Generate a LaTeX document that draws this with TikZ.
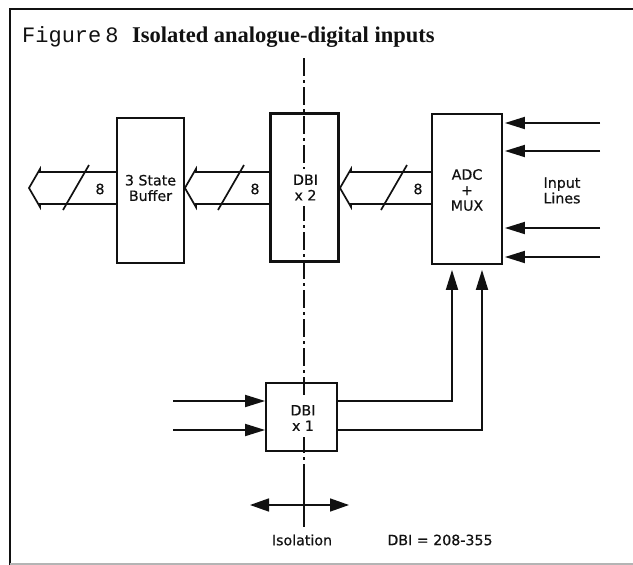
\documentclass[tikz,border=0pt]{standalone}
\usepackage{fontspec}
\setmainfont{Liberation Serif}
\setsansfont[FakeBold=0.5]{DejaVu Sans}
\newfontfamily\figfont{Liberation Mono}
\usetikzlibrary{arrows.meta, positioning, calc}
\definecolor{ink}{HTML}{111111}
\definecolor{ruleGrey}{HTML}{b4b4b4}

\begin{document}
\begin{tikzpicture}[x=1pt, y=-1pt,
    every node/.style={font=\sffamily\fontsize{14.2}{15.5}\selectfont, color=ink},
    box/.style={draw=ink, line width=1.8pt, minimum width=67pt,
                minimum height=145pt, inner sep=0pt},
    thickbox/.style={box, line width=3pt},
    txt/.style={align=center, inner sep=1pt},
    gap/.style={txt, fill=white, inner ysep=6pt},
    bus/.style={draw=ink, line width=1.7pt, line join=miter},
    arr/.style={-{Triangle[length=20pt,width=12pt]}, line width=1.8pt,
                draw=ink},
    iso/.style={draw=ink, line width=1.5pt,
                dash pattern=on 18pt off 4pt on 3pt off 4pt},
    ]
\useasboundingbox (0,0) rectangle (633,565);

% ====================================================================
% Frame and title
% ====================================================================
\draw[ink, line width=2.6pt] (633,9) -- (10,9) -- (10,565);
\draw[ruleGrey, line width=1.6pt] (10,564) -- (633,564);

\node[inner sep=0pt, anchor=base west,
      font=\figfont\fontsize{22}{24}\selectfont] (fig) at (22,42)
  {Figure\hspace{4pt}8};
\node[inner sep=0pt, right=13pt of fig.base east, anchor=base west,
      font=\rmfamily\bfseries\fontsize{22.5}{26}\selectfont] (title)
  {Isolated analogue-digital inputs};

% ====================================================================
% Isolation barrier (dash-dot), drawn first so labels sit on top
% ====================================================================
\coordinate (isotop) at (304,58);
\coordinate (isomid) at (304,468);
\coordinate (isoend) at (304,527);
\draw[iso] (isotop) -- (isomid);
\draw[ink, line width=1.5pt] (isomid) -- (isoend);

% ====================================================================
% Blocks
% ====================================================================
\node[box] (buffer) at (150.5,190.5) {};
\node[thickbox, minimum width=68pt, minimum height=148pt] (dbitwo)
  at (304.5,187.5) {};
\node[box, minimum width=70pt, minimum height=150pt] (adc) at (467,189) {};
\node[box, minimum width=71pt, minimum height=68pt] (dbione)
  at (301.5,417) {};

\node[txt] (buftxt) at (150.5,188) {3 State\\Buffer};
\node[gap] (dbitwotxt) at (305.5,187.5) {DBI\\x 2};
\node[txt] (adctxt) at (467,190) {ADC\\+\\MUX};
\node[gap] (dbionetxt) at (303,418) {DBI\\x 1};
\node[txt] (inputs) at (562,190.5) {Input\\Lines};

% ====================================================================
% 8-bit buses (hollow arrows)
% ====================================================================
\coordinate (bt) at (0,172);
\coordinate (bm) at (0,188);
\coordinate (bb) at (0,204);
\coordinate (outtip) at (29,188);

% Buffer -> output
\draw[bus] (buffer.west |- bt) -- ($(outtip |- bt)+(11,0)$) -- ++(0,-3)
  -- (outtip) -- ($(outtip |- bb)+(11,3)$) -- ++(0,-3)
  -- (buffer.west |- bb);
% DBI x2 -> Buffer
\draw[bus] (dbitwo.west |- bt) -- ($(buffer.east |- bt)+(11,0)$) -- ++(0,-3)
  -- (buffer.east |- bm) -- ($(buffer.east |- bb)+(11,3)$) -- ++(0,-3)
  -- (dbitwo.west |- bb);
% ADC -> DBI x2
\draw[bus] (adc.west |- bt) -- ($(dbitwo.east |- bt)+(11,0)$) -- ++(0,-3)
  -- (dbitwo.east |- bm) -- ($(dbitwo.east |- bb)+(11,3)$) -- ++(0,-3)
  -- (adc.west |- bb);

% Bus width marks
\foreach \b/\x in {out/100, buf/255, dbi/418} {
  \node (w\b) at (\x,189) {8};
  \draw[bus] ($(w\b)+(-37,21)$) -- ($(w\b)+(-11,-24)$);
}

% ====================================================================
% Signal arrows
% ====================================================================
% Input lines into ADC + MUX
\foreach \y/\n in {123/1, 151/2, 228/3, 257/4} {
  \coordinate (in\n) at (600,\y);
  \draw[arr, shorten >=2pt] (in\n) -- (in\n -| adc.east);
}

% Inputs to DBI x1
\coordinate (ia) at (173,401);
\coordinate (ib) at (173,430);
\draw[arr] (ia) -- (ia -| dbione.west);
\draw[arr] (ib) -- (ib -| dbione.west);

% DBI x1 -> ADC + MUX
\coordinate (adca) at ($(adc.south)+(-15,0)$);
\coordinate (adcb) at ($(adc.south)+(15,0)$);
\draw[arr, shorten >=5pt] (ia -| dbione.east) -- (ia -| adca) -- (adca);
\draw[arr, shorten >=5pt] (ib -| dbione.east) -- (ib -| adcb) -- (adcb);

% Isolation marker
\coordinate (isoL) at (250,505);
\coordinate (isoR) at (349,505);
\draw[{Triangle[length=19pt,width=13pt]}-{Triangle[length=19pt,width=13pt]},
      line width=1.6pt, draw=ink] (isoL) -- (isoR);
\node (isolabel) at (302,540) {Isolation};
\node (dbinote) at (440,540) {DBI = 208-355};

\end{tikzpicture}
\end{document}
